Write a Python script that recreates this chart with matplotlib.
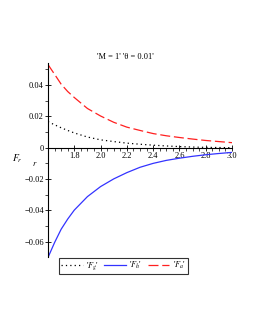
import numpy as np
import matplotlib
matplotlib.use('Agg')
import matplotlib.pyplot as plt
from matplotlib.ticker import MultipleLocator, FuncFormatter

plt.rcParams['font.family'] = ['Liberation Serif', 'DejaVu Serif']
plt.rcParams['mathtext.fontset'] = 'stix'

# values
r = [1.6, 1.65, 1.7, 1.75, 1.8, 1.9, 2.0, 2.1, 2.2, 2.3, 2.4, 2.5, 2.6, 2.7,
     2.8, 2.9, 3.0]
F_g = [0.0166, 0.0146, 0.0127, 0.0110, 0.0094, 0.0068, 0.0050, 0.0039, 0.0029,
       0.0022, 0.0016, 0.0011, 0.0007, 0.0004, 0.0002, 0.0001, 0.0000]
F_h = [-0.0700, -0.0605, -0.0520, -0.0455, -0.0398, -0.0312, -0.0248, -0.0199,
       -0.0159, -0.0125, -0.0100, -0.0081, -0.0067, -0.0055, -0.0045, -0.0037,
       -0.0030]
F_a = [0.0530, 0.0468, 0.0405, 0.0358, 0.0320, 0.0250, 0.0202, 0.0162, 0.0131,
       0.0110, 0.0090, 0.0076, 0.0065, 0.0055, 0.0046, 0.0039, 0.0032]
labels = ["'$F_g$'", "'$F_h$'", "'$F_a$'"]
title = "'M = 1' 'θ = 0.01'"

fig = plt.figure(figsize=(2.55, 3.3), dpi=100)
ax = fig.add_axes([48 / 255, 1 - 257 / 330, 184 / 255, 194 / 330])

l1, = ax.plot(r, F_g, color='black', lw=0.9, linestyle=(0, (1, 2.5)))
l2, = ax.plot(r, F_h, color='#3333ff', lw=0.9)
l3, = ax.plot(r, F_a, color='#ff2020', lw=0.9, linestyle=(0, (8, 3)))

ax.set_xlim(1.6, 3.0)
ax.set_ylim(-0.0697, 0.054)

ax.spines['top'].set_visible(False)
ax.spines['right'].set_visible(False)
ax.spines['bottom'].set_position(('data', 0))
for s in ['left', 'bottom']:
    ax.spines[s].set_linewidth(0.8)

ax.xaxis.set_major_locator(MultipleLocator(0.2))
ax.xaxis.set_minor_locator(MultipleLocator(0.05))
ax.yaxis.set_major_locator(MultipleLocator(0.02))
ax.yaxis.set_minor_locator(MultipleLocator(0.01))


def yfmt(v, pos):
    if abs(v) < 1e-9:
        return '0'
    return ('%.2f' % v).replace('-', '\u2212')


def xfmt(v, pos):
    if v < 1.7:
        return ''
    return '%.1f' % v


ax.yaxis.set_major_formatter(FuncFormatter(yfmt))
ax.xaxis.set_major_formatter(FuncFormatter(xfmt))
ax.tick_params(which='major', direction='inout', length=4, width=0.6, labelsize=6, pad=1)
ax.tick_params(which='minor', direction='out', length=2, width=0.5)

fig.text(125 / 255, 1 - 57 / 330, title, ha='center', va='center', fontsize=6)
fig.text(17 / 255, 1 - 159 / 330, '$F_r$', ha='center', va='center', fontsize=7)
fig.text(35 / 255, 1 - 164 / 330, '$r$', ha='center', va='center', fontsize=6)

leg = fig.legend([l1, l2, l3], labels, loc='center', ncol=3,
                 bbox_to_anchor=(123.5 / 255, 1 - 266 / 330), fontsize=6,
                 frameon=True, fancybox=False, edgecolor='black',
                 handlelength=2.6, handletextpad=0.4, columnspacing=0.6,
                 borderpad=0.25, borderaxespad=0)
leg.get_frame().set_linewidth(0.8)

fig.savefig('out.png', dpi=100)
